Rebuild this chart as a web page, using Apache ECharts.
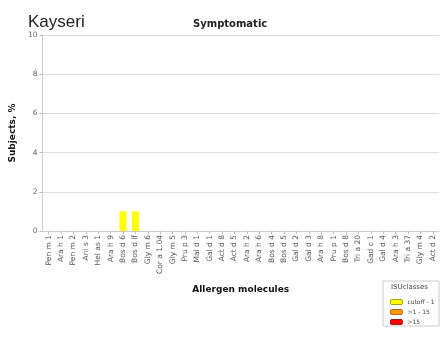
<!DOCTYPE html>
<html><head><meta charset="utf-8">
<script src="https://cdn.jsdelivr.net/npm/echarts@6/dist/echarts.min.js"></script>
<style>html,body{margin:0;padding:0;background:#fff}#c{width:446px;height:338px}</style>
</head><body><div id="c"></div>
<script>
const categories = ["Pen m 1","Ara h 1","Pen m 2","Ani s 3","Hel as 1","Ara h 9","Bos d 6","Bos d lf","Gly m 6","Cor a 1.04","Gly m 5","Pru p 3","Mal d 1","Gal d 1","Act d 8","Act d 5","Ara h 2","Ara h 6","Bos d 4","Bos d 5","Gal d 2","Gal d 3","Ara h 8","Pru p 1","Bos d 8","Tri a 20","Gad c 1","Gal d 4","Ara h 3","Tri a 37","Gly m 4","Act d 2"];
const cutoff1 = [0,0,0,0,0,0,1,1,0,0,0,0,0,0,0,0,0,0,0,0,0,0,0,0,0,0,0,0,0,0,0,0];
const mid1to15 = [0,0,0,0,0,0,0,0,0,0,0,0,0,0,0,0,0,0,0,0,0,0,0,0,0,0,0,0,0,0,0,0];
const over15 = [0,0,0,0,0,0,0,0,0,0,0,0,0,0,0,0,0,0,0,0,0,0,0,0,0,0,0,0,0,0,0,0];
const yTicks = [0,2,4,6,8,10];
const seriesNames = ["cutoff - 1", ">1 - 15", ">15"];
const seriesColors = ['#ffff00', '#ff9900', '#ff0000'];
const legendBorders = ['#888800', '#a05000', '#800000'];

const chart = echarts.init(document.getElementById('c'));
const font = 'DejaVu Sans';
chart.setOption({
  animation:false,
  textStyle:{fontFamily:font},
  grid:{left:38, top:35, width:401, height:196, containLabel:false},
  title:[
    {text:'Kayseri', left:23, top:9, textStyle:{fontFamily:'Liberation Sans', fontSize:17, fontWeight:'normal', color:'#222'}},
    {text:'Symptomatic', left:188, top:14, textStyle:{fontFamily:font, fontSize:10, fontWeight:'bold', color:'#222'}}
  ],
  xAxis:{type:'category', data:categories,
    axisLine:{lineStyle:{color:'#ccc'}},
    axisTick:{show:true, alignWithLabel:true, length:3, lineStyle:{color:'#bbb'}},
    axisLabel:{rotate:90, interval:0, fontSize:7.5, color:'#555', margin:4},
    name:'Allergen molecules', nameLocation:'middle', nameGap:54,
    nameTextStyle:{fontWeight:'bold', fontSize:9, color:'#111'}
  },
  yAxis:{type:'value', min:0, max:10, interval:2,
    axisLine:{show:true, lineStyle:{color:'#ccc'}},
    axisTick:{show:true, length:3, lineStyle:{color:'#bbb'}},
    splitLine:{lineStyle:{color:'#ddd'}},
    axisLabel:{fontSize:7.5, color:'#666', margin:5, formatter:v=>yTicks.includes(v)?String(v):''},
    name:'Subjects, %', nameLocation:'middle', nameGap:22,
    nameTextStyle:{fontWeight:'bold', fontSize:9, color:'#111'}
  },
  legend:{orient:'vertical', left:385, top:294, itemWidth:12, itemHeight:5, itemGap:4,
    data:seriesNames.map((n,i)=>({name:n, itemStyle:{color:seriesColors[i], borderColor:legendBorders[i], borderWidth:0.8}})),
    textStyle:{fontSize:6, color:'#444', fontFamily:font}},
  graphic:[
    {type:'rect', shape:{x:383, y:281, width:56, height:45}, style:{fill:'#fff', stroke:'#ccc', lineWidth:1}, z:-1},
    {type:'text', left:391, top:284, style:{text:'ISUclasses', fontSize:7, fill:'#444', fontFamily:font}}
  ],
  series:seriesNames.map((n,i)=>({name:n, type:'bar', stack:'a', data:[cutoff1, mid1to15, over15][i], barWidth:7,
    itemStyle:{color:seriesColors[i], borderWidth:0}}))
});
</script></body></html>
